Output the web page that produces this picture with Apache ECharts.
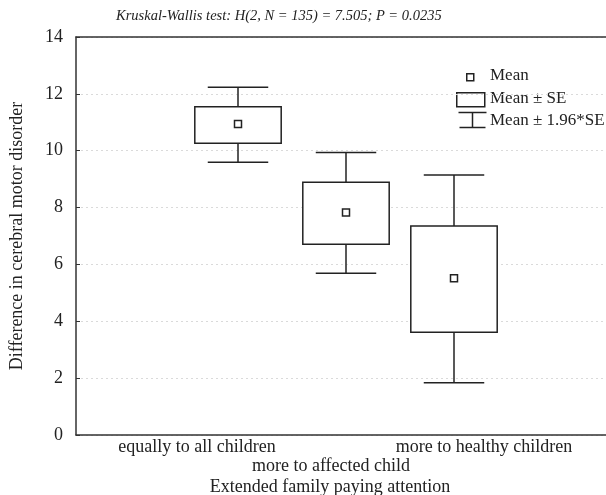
<!DOCTYPE html>
<html><head><meta charset="utf-8">
<script src="https://cdn.jsdelivr.net/npm/echarts@6/dist/echarts.min.js"></script>
<style>html,body{margin:0;padding:0;background:#fff}#c{width:606px;height:495px}</style>
</head><body><div id="c"></div>
<script>
const categories = ['equally to all children', 'more to affected child', 'more to healthy children'];
const means  = [10.94, 7.83, 5.51];
const seLow  = [10.26, 6.71, 3.61];
const seHigh = [11.55, 8.89, 7.35];
const ciLow  = [9.59, 5.69, 1.84];
const ciHigh = [12.23, 9.94, 9.15];
const yMin = 0, yMax = 14, yStep = 2;
const titleText = 'Kruskal-Wallis test: H(2, N = 135) = 7.505; P = 0.0235';
const xName = 'Extended family paying attention';
const yName = 'Difference in cerebral motor disorder';
const legendItems = ['Mean', 'Mean \u00b1 SE', 'Mean \u00b1 1.96*SE'];

const FONT = 'Liberation Serif';
const INK = '#222';
const axisCats = [''].concat(categories, ['']);
const data = categories.map((c, i) => [i + 1, means[i], seLow[i], seHigh[i], ciLow[i], ciHigh[i]]);

const chart = echarts.init(document.getElementById('c'), null, {renderer: 'canvas'});
const lineStyle = {stroke: INK, lineWidth: 1.5, fill: null};

chart.setOption({
  backgroundColor: '#fff',
  animation: false,
  title: {
    text: titleText, left: 111, top: 4,
    textStyle: {fontFamily: FONT, fontStyle: 'italic', fontWeight: 'normal', fontSize: 14.5, color: INK}
  },
  grid: {left: 76, top: 37, width: 540, height: 398, containLabel: false, outerBoundsMode: 'none'},
  xAxis: [{
    type: 'category', data: axisCats, position: 'bottom', boundaryGap: true,
    axisLine: {lineStyle: {color: '#333', width: 1.5}},
    axisTick: {inside: true, alignWithLabel: true, length: 4, lineStyle: {color: '#333'}},
    axisLabel: {
      interval: 0, margin: 3, color: INK, fontFamily: FONT, fontSize: 18,
      formatter: (v) => {
        if (v === categories[0]) return '{a|' + v + '}';
        if (v === categories[1]) return '{b|' + v + '}';
        if (v === categories[2]) return '{c|' + v + '}';
        return '';
      },
      rich: {
        a: {fontFamily: FONT, fontSize: 18, color: INK, padding: [0, 82, 0, 0]},
        b: {fontFamily: FONT, fontSize: 18, color: INK, padding: [19, 30, 0, 0]},
        c: {fontFamily: FONT, fontSize: 18, color: INK, padding: [0, 0, 0, 60]}
      }
    },
    splitLine: {show: false},
    name: xName, nameLocation: 'middle', nameGap: 43, nameMoveOverlap: false,
    nameTextStyle: {fontFamily: FONT, fontSize: 18, color: INK, padding: [0, 32, 0, 0]}
  }, {
    type: 'category', data: axisCats, position: 'top', boundaryGap: true,
    axisLine: {lineStyle: {color: '#333', width: 1.5}},
    axisTick: {inside: true, alignWithLabel: true, length: 4, lineStyle: {color: '#333'}},
    axisLabel: {show: false}
  }],
  yAxis: {
    type: 'value', min: yMin, max: yMax, interval: yStep,
    axisLine: {show: true, lineStyle: {color: '#333', width: 1.5}},
    axisTick: {show: true, inside: true, length: 4, lineStyle: {color: '#333'}},
    axisLabel: {margin: 13, color: INK, fontFamily: FONT, fontSize: 18},
    splitLine: {show: true, lineStyle: {color: '#dadada', type: [2, 3], width: 1}},
    name: yName, nameLocation: 'middle', nameGap: 50, nameRotate: 90, nameMoveOverlap: false,
    nameTextStyle: {fontFamily: FONT, fontSize: 18, color: INK}
  },
  series: [{
    type: 'custom',
    data: data,
    encode: {x: 0, y: [1, 2, 3, 4, 5]},
    renderItem: function (params, api) {
      const x = api.value(0);
      const pm = api.coord([x, api.value(1)]);
      const sl = api.coord([x, api.value(2)]);
      const sh = api.coord([x, api.value(3)]);
      const cl = api.coord([x, api.value(4)]);
      const ch = api.coord([x, api.value(5)]);
      const band = api.size([1, 0])[0];
      const bw = band * 0.8, cw = band * 0.56, m = 7;
      const cx = pm[0];
      return {type: 'group', children: [
        {type: 'line', shape: {x1: cx, y1: ch[1], x2: cx, y2: sh[1]}, style: lineStyle},
        {type: 'line', shape: {x1: cx - cw / 2, y1: ch[1], x2: cx + cw / 2, y2: ch[1]}, style: lineStyle},
        {type: 'line', shape: {x1: cx, y1: sl[1], x2: cx, y2: cl[1]}, style: lineStyle},
        {type: 'line', shape: {x1: cx - cw / 2, y1: cl[1], x2: cx + cw / 2, y2: cl[1]}, style: lineStyle},
        {type: 'rect', shape: {x: cx - bw / 2, y: sh[1], width: bw, height: sl[1] - sh[1]},
          style: {stroke: INK, lineWidth: 1.5, fill: '#fff'}},
        {type: 'rect', shape: {x: cx - m / 2, y: pm[1] - m / 2, width: m, height: m},
          style: {stroke: INK, lineWidth: 1.5, fill: '#fff'}}
      ]};
    }
  }],
  graphic: [
    {type: 'rect', left: 466, top: 73, shape: {width: 7, height: 7}, style: {stroke: INK, lineWidth: 1.5, fill: '#fff'}},
    {type: 'text', left: 490, top: 67, style: {text: legendItems[0], font: '17px "' + FONT + '"', fill: INK}},
    {type: 'rect', left: 456, top: 92, shape: {width: 28, height: 14}, style: {stroke: INK, lineWidth: 1.5, fill: '#fff'}},
    {type: 'text', left: 490, top: 90, style: {text: legendItems[1], font: '17px "' + FONT + '"', fill: INK}},
    {type: 'group', left: 456, top: 110, children: [
      {type: 'line', shape: {x1: 0, y1: 1, x2: 28, y2: 1}, style: lineStyle},
      {type: 'line', shape: {x1: 14, y1: 1, x2: 14, y2: 16}, style: lineStyle},
      {type: 'line', shape: {x1: 1, y1: 16, x2: 27, y2: 16}, style: lineStyle}
    ]},
    {type: 'text', left: 490, top: 112, style: {text: legendItems[2], font: '17px "' + FONT + '"', fill: INK}}
  ]
});
</script>
</body></html>
